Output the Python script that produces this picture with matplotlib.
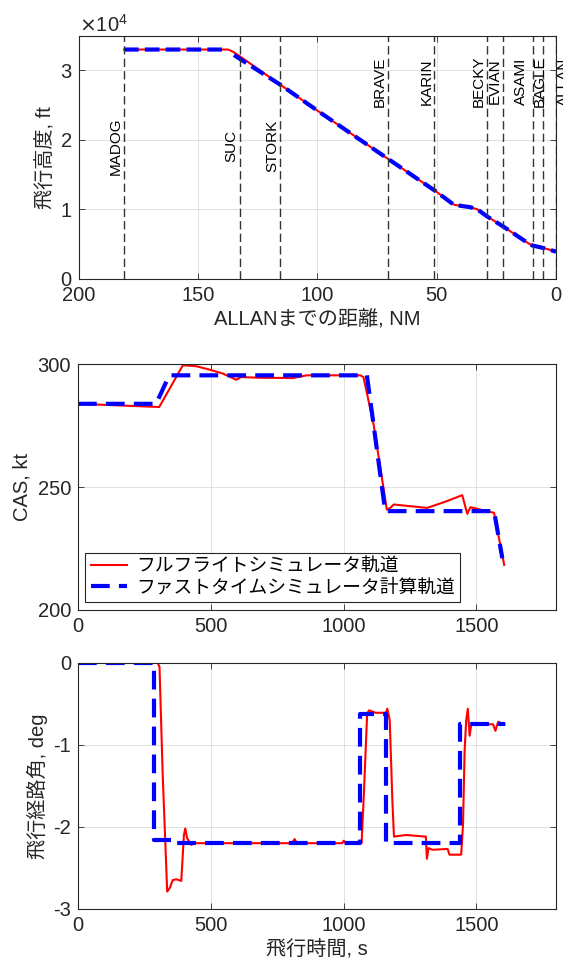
import numpy as np
import matplotlib
matplotlib.use("Agg")
import matplotlib.pyplot as plt
from matplotlib.ticker import ScalarFormatter

plt.rcParams['font.family'] = ['Liberation Sans', 'Noto Sans CJK JP']
plt.rcParams['axes.unicode_minus'] = False

# --- top panel: altitude vs distance to ALLAN ---
dist_red = [181.1, 137.5, 135.5, 132, 115.4, 100, 71, 50, 43, 42, 36, 33, 29, 22, 12, 10, 5, 0]
alt_red = [33000, 33000, 32700, 31900, 27900, 24200, 17400, 12500, 10700, 10600, 10300, 10000,
           9000, 7500, 5200, 4800, 4400, 3900]
dist_blue = [181.1, 139.5, np.nan, 135, 115.4, 100, 71, 50, 43, 42, 36, 33, 29, 22, 12, 10, 5, 0]
alt_blue = [33000, 33000, np.nan, 32200, 27900, 24200, 17400, 12500, 10700, 10600, 10300, 10000,
            9000, 7500, 5200, 4800, 4400, 3900]

wp_names = ['MADOG', 'SUC', 'STORK', 'BRAVE', 'KARIN', 'BECKY', 'EVIAN', 'ASAMI', 'BAGLE', 'ALLAN']
wp_dist = [181.1, 132.6, 115.5, 70.6, 50.9, 28.9, 22.1, 9.6, 5.4, 0]
wp_label_alt = [19100, 19100, 19100, 28400, 28400, 28400, 28400, 28400, 28400, 28400]

# --- middle panel: CAS vs time ---
t_cas_red = [0, 306, 395, 446, 496, 546, 596, 615, 684, 810, 861, 1063, 1075, 1113, 1163, 1176,
             1189, 1315, 1390, 1447, 1466, 1478, 1567, 1605]
cas_red = [283.9, 282.6, 299.6, 299.2, 297.8, 296.2, 293.7, 294.8, 294.5, 294.4, 295.5, 295.5,
           294.8, 275.7, 240.8, 241.5, 242.9, 241.5, 244.3, 246.7, 239.1, 241.8, 239.5, 218.3]
t_cas_blue = [0, 294, 344, 1088, 1157, 1567, 1598]
cas_blue = [283.9, 283.9, 295.5, 295.5, 240.2, 240.2, 221]

# --- bottom panel: flight path angle vs time ---
t_fpa_red = [0, 300, 307, 319, 336, 345, 357, 370, 389, 399, 404, 411, 427, 439, 805, 816, 825,
             995, 1001, 1008, 1068, 1077, 1089, 1096, 1121, 1159, 1165, 1174, 1184, 1190, 1235,
             1310, 1314, 1320, 1336, 1392, 1399, 1443, 1450, 1456, 1462, 1468, 1475, 1481, 1563,
             1572, 1582, 1607]
fpa_red = [0, 0, -0.05, -1.36, -2.79, -2.75, -2.65, -2.64, -2.66, -2.10, -2.02, -2.14, -2.22,
           -2.20, -2.20, -2.15, -2.20, -2.20, -2.17, -2.20, -2.20, -1.57, -0.62, -0.58, -0.61,
           -0.61, -0.56, -0.70, -1.69, -2.12, -2.10, -2.12, -2.39, -2.26, -2.28, -2.27, -2.34,
           -2.34, -1.97, -1.07, -0.70, -0.56, -0.89, -0.75, -0.75, -0.83, -0.72, -0.75]
t_fpa_blue = [0, 287, 287, 370, 370, 1062, 1062, 1159, 1159, 1437, 1437, 1607]
fpa_blue = [0, 0, -2.16, -2.16, -2.20, -2.20, -0.62, -0.62, -2.20, -2.20, -0.75, -0.75]

fig = plt.figure(figsize=(5.63, 9.66), dpi=100)
ax1 = fig.add_axes([0.1403, 0.7115, 0.847, 0.2516])
ax2 = fig.add_axes([0.1385, 0.3687, 0.849, 0.2542])
ax3 = fig.add_axes([0.1385, 0.0592, 0.849, 0.2547])

red_kw = dict(color='#ff0000', lw=1.5)
blue_kw = dict(color='#0000ff', lw=3, ls='--', dashes=(4.5, 2.2))

def style(ax):
    ax.grid(True, color='#dcdcdc', lw=0.6)
    ax.set_axisbelow(True)
    ax.tick_params(direction='in', top=True, right=True, length=4, width=0.6,
                   labelsize=14.5, colors='#262626', pad=5)
    for s in ax.spines.values():
        s.set_color('#262626')
        s.set_linewidth(0.8)

# top
ax1.plot(dist_red, alt_red, **red_kw)
ax1.plot(dist_blue, alt_blue, color='#0000ff', lw=3, ls='--', dashes=(3.5, 1.5))
for name, d, ya in zip(wp_names, wp_dist, wp_label_alt):
    ax1.axvline(d, color='#333333', lw=1, ls='--', dashes=(6, 3))
    dx, ha = -1, 'right'
    if name == 'ASAMI':
        dx = -5
    elif name == 'BAGLE':
        dx = 4
    elif name == 'ALLAN':
        dx, ha = 1, 'left'
    ax1.annotate(name, xy=(d, ya), xytext=(dx, 0), textcoords='offset pixels',
                 rotation=90, ha=ha, va='center', fontsize=11, color='black',
                 annotation_clip=False)
ax1.set_xlim(200, 0)
ax1.set_ylim(0, 35000)
ax1.set_xticks([200, 150, 100, 50, 0])
ax1.set_yticks([0, 10000, 20000, 30000])
fmt = ScalarFormatter(useMathText=True)
fmt.set_powerlimits((4, 4))
ax1.yaxis.set_major_formatter(fmt)
ax1.set_xlabel('ALLANまでの距離, NM', fontsize=14.5, color='#262626')
ax1.set_ylabel('飛行高度, ft', fontsize=14.5, color='#262626')
style(ax1)
ax1.yaxis.get_offset_text().set_fontsize(14.5)
ax1.yaxis.get_offset_text().set_color('#262626')

# middle
ax2.plot(t_cas_red, cas_red, label='フルフライトシミュレータ軌道', **red_kw)
ax2.plot(t_cas_blue, cas_blue, label='ファストタイムシミュレータ計算軌道', **blue_kw)
ax2.set_xlim(0, 1800)
ax2.set_ylim(200, 300)
ax2.set_xticks([0, 500, 1000, 1500])
ax2.set_yticks([200, 250, 300])
ax2.set_ylabel('CAS, kt', fontsize=14.5, color='#262626')
style(ax2)
leg = ax2.legend(loc='lower left', fontsize=13.5, fancybox=False, framealpha=1,
                 edgecolor='#262626', handlelength=1.9, borderpad=0.3,
                 labelspacing=0.2, handletextpad=0.5, borderaxespad=0.4)
leg.get_frame().set_linewidth(0.8)

# bottom
ax3.plot(t_fpa_red, fpa_red, **red_kw)
ax3.plot(t_fpa_blue, fpa_blue, **blue_kw)
ax3.set_xlim(0, 1800)
ax3.set_ylim(-3, 0)
ax3.set_xticks([0, 500, 1000, 1500])
ax3.set_yticks([-3, -2, -1, 0])
ax3.set_xlabel('飛行時間, s', fontsize=14.5, color='#262626')
ax3.set_ylabel('飛行経路角, deg', fontsize=14.5, color='#262626')
style(ax3)

fig.savefig('out.png', dpi=100)
